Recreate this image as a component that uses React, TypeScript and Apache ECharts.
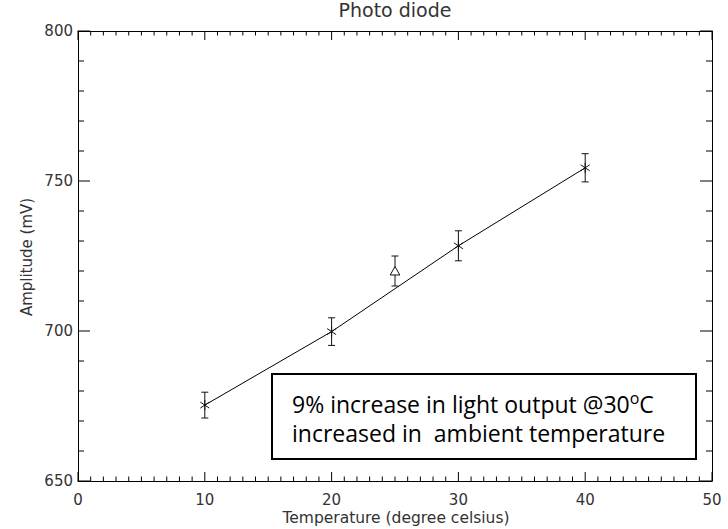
import React, { useEffect, useRef } from "react";
import * as echarts from "echarts";

// ---- data ----
const temperatures = [10, 20, 25, 30, 40];
const amplitudes = [675.3, 699.8, 720, 728.4, 754.4];
const errors = [4.3, 4.6, 5, 5, 4.7];
const markers = ["star", "star", "triangle", "star", "star"];

const xTickValues = [0, 10, 20, 30, 40, 50];
const yTickValues = [650, 700, 750, 800];
const xMinorPerMajor = 10;
const yMinorPerMajor = 5;

const titleText = "Photo diode";
const xTitle = "Temperature (degree celsius)";
const yTitle = "Amplitude (mV)";
const noteLine1 = "9% increase in light output @30";
const noteSup = "o";
const noteEnd = "C";
const noteLine2 = "increased in  ambient temperature";

const LABEL_FONT = "DejaVu Sans";
const NOTE_FONT = "Open Sans";

export default function App() {
  const ref = useRef<HTMLDivElement>(null);
  useEffect(() => {
    if (!ref.current) return;
    const chart = echarts.init(ref.current, null, { renderer: "svg" });

    const xMin = xTickValues[0];
    const xMax = xTickValues[xTickValues.length - 1];
    const yMin = yTickValues[0];
    const yMax = yTickValues[yTickValues.length - 1];

    const lineData = temperatures
      .map((t, i) => [t, amplitudes[i]])
      .filter((_, i) => markers[i] === "star");
    const pointData = temperatures.map((t, i) => [
      t,
      amplitudes[i],
      errors[i],
      markers[i] === "star" ? 0 : 1,
    ]);

    const axisCommon = {
      type: "value" as const,
      splitLine: { show: false },
      minorSplitLine: { show: false },
      axisTick: { show: false },
      minorTick: { show: false },
      axisLine: { show: true, onZero: false, lineStyle: { color: "#000", width: 1 } },
    };

    const option: any = {
      animation: false,
      backgroundColor: "#fff",
      grid: { left: 78, right: 16, top: 31, bottom: 48, containLabel: false },
      xAxis: [
        {
          ...axisCommon,
          position: "bottom",
          min: xMin,
          max: xMax,
          interval: 10,
          axisLabel: { margin: 11, color: "#333", fontFamily: LABEL_FONT, fontSize: 15 },
        },
        {
          ...axisCommon,
          position: "top",
          min: xMin,
          max: xMax,
          interval: 10,
          axisLabel: { show: false },
        },
      ],
      yAxis: [
        {
          ...axisCommon,
          position: "left",
          min: yMin,
          max: yMax,
          interval: 50,
          axisLabel: { margin: 5, color: "#333", fontFamily: LABEL_FONT, fontSize: 15 },
        },
        {
          ...axisCommon,
          position: "right",
          min: yMin,
          max: yMax,
          interval: 50,
          axisLabel: { show: false },
        },
      ],
      series: [
        {
          type: "line",
          data: lineData,
          xAxisIndex: 0,
          yAxisIndex: 0,
          showSymbol: false,
          symbol: "none",
          lineStyle: { color: "#000", width: 1 },
          z: 2,
        },
        {
          type: "custom",
          xAxisIndex: 0,
          yAxisIndex: 0,
          data: pointData,
          encode: { x: 0, y: 1 },
          z: 3,
          renderItem: (params: any, api: any) => {
            const x = api.value(0);
            const y = api.value(1);
            const e = api.value(2);
            const m = api.value(3);
            const c = api.coord([x, y]);
            const top = api.coord([x, y + e]);
            const bot = api.coord([x, y - e]);
            const cap = 3.5;
            const st = { stroke: "#111", lineWidth: 1, fill: "none" };
            const children: any[] = [
              { type: "line", shape: { x1: c[0], y1: top[1], x2: c[0], y2: bot[1] }, style: st },
              { type: "line", shape: { x1: c[0] - cap, y1: top[1], x2: c[0] + cap, y2: top[1] }, style: st },
              { type: "line", shape: { x1: c[0] - cap, y1: bot[1], x2: c[0] + cap, y2: bot[1] }, style: st },
            ];
            if (m === 0) {
              const r = 5;
              const dx = 4.5;
              const dy = 3;
              children.push(
                { type: "line", shape: { x1: c[0], y1: c[1] - r, x2: c[0], y2: c[1] + r }, style: st },
                { type: "line", shape: { x1: c[0] - dx, y1: c[1] - dy, x2: c[0] + dx, y2: c[1] + dy }, style: st },
                { type: "line", shape: { x1: c[0] - dx, y1: c[1] + dy, x2: c[0] + dx, y2: c[1] - dy }, style: st }
              );
            } else {
              children.push({
                type: "polygon",
                shape: {
                  points: [
                    [c[0], c[1] - 4.5],
                    [c[0] - 4.8, c[1] + 4],
                    [c[0] + 4.8, c[1] + 4],
                  ],
                },
                style: { stroke: "#111", lineWidth: 1, fill: "#fff" },
              });
            }
            return { type: "group", children };
          },
        },
      ],
    };

    chart.setOption(option);

    // frame ticks (IDL style, pointing inward on all four sides), placed through the axes' scales
    const tickLines: any[] = [];
    try {
      const px = (v: number[]) => chart.convertToPixel({ gridIndex: 0 }, v) as unknown as number[];
      const st = { stroke: "#000", lineWidth: 1 };
      const addX = (v: number, major: boolean) => {
        const b = px([v, yMin]);
        const t = px([v, yMax]);
        const len = major ? 9 : 4.5;
        tickLines.push({ type: "line", shape: { x1: b[0], y1: b[1], x2: b[0], y2: b[1] - len }, style: st });
        tickLines.push({ type: "line", shape: { x1: t[0], y1: t[1], x2: t[0], y2: t[1] + len }, style: st });
      };
      const addY = (v: number, major: boolean) => {
        const l = px([xMin, v]);
        const r = px([xMax, v]);
        const len = major ? 12 : 6;
        tickLines.push({ type: "line", shape: { x1: l[0], y1: l[1], x2: l[0] + len, y2: l[1] }, style: st });
        tickLines.push({ type: "line", shape: { x1: r[0], y1: r[1], x2: r[0] - len, y2: r[1] }, style: st });
      };
      for (let i = 0; i < xTickValues.length; i++) {
        addX(xTickValues[i], true);
        if (i < xTickValues.length - 1) {
          const step = (xTickValues[i + 1] - xTickValues[i]) / xMinorPerMajor;
          for (let k = 1; k < xMinorPerMajor; k++) addX(xTickValues[i] + k * step, false);
        }
      }
      for (let i = 0; i < yTickValues.length; i++) {
        addY(yTickValues[i], true);
        if (i < yTickValues.length - 1) {
          const step = (yTickValues[i + 1] - yTickValues[i]) / yMinorPerMajor;
          for (let k = 1; k < yMinorPerMajor; k++) addY(yTickValues[i] + k * step, false);
        }
      }
    } catch (e) {
      // leave ticks out if conversion fails
    }

    chart.setOption({
      graphic: [
        {
          id: "title",
          type: "text",
          x: 395,
          y: 10,
          style: {
            text: titleText,
            font: `19px "${LABEL_FONT}"`,
            fill: "#333",
            align: "center",
            verticalAlign: "middle",
          },
        },
        {
          id: "xtitle",
          type: "text",
          x: 396,
          y: 518,
          style: {
            text: xTitle,
            font: `15.5px "${LABEL_FONT}"`,
            fill: "#333",
            align: "center",
            verticalAlign: "middle",
          },
        },
        {
          id: "ytitle",
          type: "text",
          x: 27,
          y: 257,
          rotation: Math.PI / 2,
          style: {
            text: yTitle,
            font: `15px "${LABEL_FONT}"`,
            fill: "#333",
            align: "center",
            verticalAlign: "middle",
          },
        },
        {
          id: "frameTicks",
          type: "group",
          z: 100,
          silent: true,
          children: tickLines,
        },
        {
          id: "notebox",
          type: "rect",
          shape: { x: 272, y: 374, width: 424, height: 85 },
          style: { fill: "#fff", stroke: "#000", lineWidth: 2 },
          z: 10,
        },
        {
          id: "notetext",
          type: "text",
          x: 292,
          y: 389.5,
          z: 11,
          style: {
            text:
              "{a|" + noteLine1 + "}{s|" + noteSup + "}{a|" + noteEnd + "}\n{a|" + noteLine2 + "}",
            fill: "#000",
            align: "left",
            verticalAlign: "top",
            rich: {
              a: { fontFamily: NOTE_FONT, fontSize: 23, lineHeight: 29, fill: "#000" },
              s: { fontFamily: NOTE_FONT, fontSize: 16, lineHeight: 16, verticalAlign: "top", fill: "#000" },
            },
          },
        },
      ],
    });

    return () => chart.dispose();
  }, []);

  return (
    <div
      ref={ref}
      style={{ position: "absolute", left: 0, top: 0, width: 728, height: 529 }}
    />
  );
}
